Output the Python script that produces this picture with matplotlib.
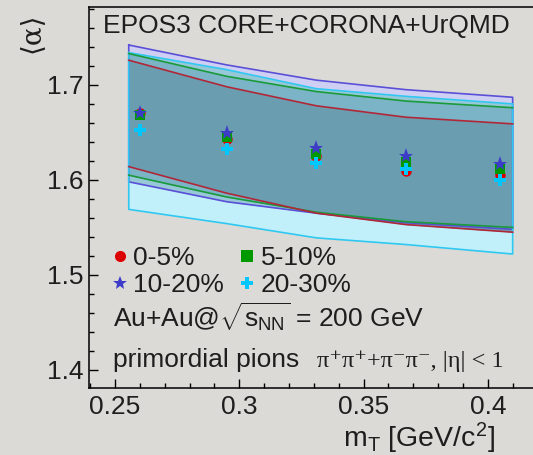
import numpy as np
import matplotlib
matplotlib.use('Agg')
import matplotlib.pyplot as plt
from matplotlib.lines import Line2D
from matplotlib.ticker import MultipleLocator, FixedLocator

# ---------------- data ----------------
mt = [0.260, 0.295, 0.331, 0.367, 0.405]
alpha_0_5 = [1.670, 1.643, 1.625, 1.609, 1.605]
alpha_5_10 = [1.668, 1.645, 1.627, 1.619, 1.611]
alpha_10_20 = [1.670, 1.649, 1.634, 1.625, 1.617]
alpha_20_30 = [1.653, 1.633, 1.618, 1.611, 1.600]

band_mt = [0.2555, 0.295, 0.331, 0.367, 0.410]
band_0_5_up = [1.726, 1.698, 1.678, 1.666, 1.659]
band_0_5_lo = [1.614, 1.586, 1.565, 1.553, 1.545]
band_5_10_up = [1.733, 1.709, 1.693, 1.683, 1.676]
band_5_10_lo = [1.605, 1.582, 1.566, 1.556, 1.550]
band_10_20_up = [1.742, 1.721, 1.705, 1.695, 1.687]
band_10_20_lo = [1.598, 1.577, 1.565, 1.555, 1.548]
band_20_30_up = [1.734, 1.716, 1.696, 1.688, 1.680]
band_20_30_lo = [1.569, 1.554, 1.539, 1.532, 1.522]

labels = ['0-5%', '5-10%', '10-20%', '20-30%']
xticks = [0.25, 0.3, 0.35, 0.4]
xticklabels = ['0.25', '0.3', '0.35', '0.4']
yticks = [1.4, 1.5, 1.6, 1.7]
yticklabels = ['1.4', '1.5', '1.6', '1.7']

# ---------------- style ----------------
plt.rcParams['font.family'] = ['Liberation Sans', 'DejaVu Sans']
plt.rcParams['mathtext.fontset'] = 'custom'
plt.rcParams['mathtext.rm'] = 'Liberation Sans'
plt.rcParams['mathtext.it'] = 'Liberation Sans'
plt.rcParams['mathtext.bf'] = 'Liberation Sans:bold'

BG = '#dcdad6'
TXT = '#1e1e1e'
FS = 19

C_RED = '#dd0000'
C_GRN = '#009a00'
C_BLU = '#3c3cc8'
C_CYN = '#00c8ff'

L_RED = '#b02838'
L_GRN = '#1a9a3a'
L_PUR = '#5a50d8'
L_CYN = '#30c8f0'

F_LAV = '#cfcff4'
F_LCY = '#c2f0fa'
F_PC = '#96c8d8'
F_G = '#7ab4c6'
F_R = '#6a9db0'

W, H = 533, 455
fig = plt.figure(figsize=(W / 100, H / 100), dpi=100, facecolor=BG)
ax = fig.add_axes([89 / W, (H - 388) / H, (540 - 89) / W, (388 - 7) / H], facecolor=BG)

bx = np.array(band_mt)
p_up, p_lo = np.array(band_10_20_up), np.array(band_10_20_lo)
c_up, c_lo = np.array(band_20_30_up), np.array(band_20_30_lo)
g_up, g_lo = np.array(band_5_10_up), np.array(band_5_10_lo)
r_up, r_lo = np.array(band_0_5_up), np.array(band_0_5_lo)

ax.fill_between(bx, p_lo, p_up, color=F_LAV, lw=0, zorder=1)
ax.fill_between(bx, c_lo, c_up, color=F_LCY, lw=0, zorder=1.1)
ax.fill_between(bx, np.maximum(p_lo, c_lo), np.minimum(p_up, c_up), color=F_PC, lw=0, zorder=1.2)
ax.fill_between(bx, g_lo, g_up, color=F_G, lw=0, zorder=1.3)
ax.fill_between(bx, r_lo, r_up, color=F_R, lw=0, zorder=1.4)


def outline(up, lo):
    xs = np.r_[bx, bx[::-1], bx[0]]
    ys = np.r_[up, lo[::-1], up[0]]
    return xs, ys


ax.plot(*outline(p_up, p_lo), color=L_PUR, lw=1.2, zorder=2.0)
ax.plot(*outline(c_up, c_lo), color=L_CYN, lw=1.2, zorder=2.1)
ax.plot(bx, g_up, color=L_GRN, lw=1.2, zorder=2.2)
ax.plot(bx, g_lo, color=L_GRN, lw=1.2, zorder=2.2)
ax.plot(bx, r_up, color=L_RED, lw=1.2, zorder=2.3)
ax.plot(bx, r_lo, color=L_RED, lw=1.2, zorder=2.3)

ax.plot(mt, alpha_0_5, 'o', color=C_RED, ms=7.5, mew=0, zorder=3.0)
ax.plot(mt, alpha_5_10, 's', color=C_GRN, ms=7.5, mew=0, zorder=3.1)
ax.plot(mt, alpha_10_20, '*', color=C_BLU, ms=11, mew=0, zorder=3.2)
ax.plot(mt, alpha_20_30, 'P', color=C_CYN, ms=8.5, mew=0, zorder=3.3)

ax.set_xlim(0.2395, 0.421)
ax.set_ylim(1.381, 1.782)

ax.xaxis.set_major_locator(FixedLocator(xticks))
ax.set_xticklabels(xticklabels)
ax.xaxis.set_minor_locator(MultipleLocator(0.01))
ax.yaxis.set_major_locator(FixedLocator(yticks))
ax.set_yticklabels(yticklabels)
ax.yaxis.set_minor_locator(MultipleLocator(0.02))
ax.tick_params(which='both', direction='in', top=False, right=False, color='black', width=1.0,
               labelsize=FS, labelcolor=TXT)
ax.tick_params(which='major', length=6.5)
ax.tick_params(which='minor', length=3.5)
ax.tick_params(axis='x', pad=5)
ax.tick_params(axis='y', pad=4)
for s in ax.spines.values():
    s.set_linewidth(1.1)
    s.set_color('black')


def px(x, y):
    return x / W, 1 - y / H


fig.text(*px(103, 33), 'EPOS3 CORE+CORONA+UrQMD', fontsize=FS, color=TXT, va='baseline', ha='left')
fig.text(*px(31, 33), '\u27e8\u03b1\u27e9', fontsize=20, color=TXT, rotation=90, va='center', ha='center',
         family=['DejaVu Serif'])
fig.text(*px(495, 447), r'm$_{\rm T}$ [GeV/c$^{2}$]', fontsize=20.5, color=TXT, va='baseline', ha='right')
fig.text(*px(113, 328), r'Au+Au@$\sqrt{\rm s_{NN}}$ = 200 GeV', fontsize=FS, color=TXT, va='baseline', ha='left')
fig.text(*px(113, 367), 'primordial pions', fontsize=FS, color=TXT, va='baseline', ha='left')
fig.text(*px(317, 367), '\u03c0\u207a\u03c0\u207a+\u03c0\u207b\u03c0\u207b, |\u03b7| < 1', fontsize=17.5,
         color=TXT, va='baseline', ha='left', family=['Liberation Serif', 'DejaVu Serif'])

handles = [
    Line2D([], [], marker='o', ls='none', color=C_RED, ms=8, mew=0),
    Line2D([], [], marker='*', ls='none', color=C_BLU, ms=10, mew=0),
    Line2D([], [], marker='s', ls='none', color=C_GRN, ms=8, mew=0),
    Line2D([], [], marker='P', ls='none', color=C_CYN, ms=9, mew=0),
]
hl = [labels[0], labels[2], labels[1], labels[3]]
leg = fig.legend(handles, hl, ncol=2, loc='upper left', bbox_to_anchor=px(113, 246),
                 frameon=False, fontsize=FS, borderpad=0, borderaxespad=0, handlelength=0.5,
                 handletextpad=0.25, columnspacing=0.65, labelspacing=0.13, labelcolor=TXT)

fig.savefig('out.png', dpi=100, facecolor=BG)
